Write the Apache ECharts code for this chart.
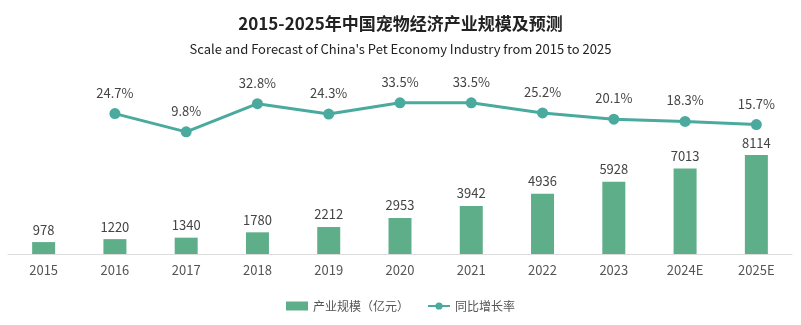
<!DOCTYPE html>
<html><head><meta charset="utf-8">
<script src="https://cdn.jsdelivr.net/npm/echarts@6/dist/echarts.min.js"></script>
<style>html,body{margin:0;padding:0;background:#fff}#c{width:801px;height:325px}</style>
</head><body><div id="c"></div>
<script>
const categories = ['2015','2016','2017','2018','2019','2020','2021','2022','2023','2024E','2025E'];
const industryScale = [978,1220,1340,1780,2212,2953,3942,4936,5928,7013,8114];
const growthRate = [null,24.7,9.8,32.8,24.3,33.5,33.5,25.2,20.1,18.3,15.7];
const chart = echarts.init(document.getElementById('c'));
const font = '"Noto Sans CJK SC","Noto Sans",sans-serif';
chart.setOption({
  animation:false,
  textStyle:{fontFamily:font},
  title:[
    {text:'2015-2025年中国宠物经济产业规模及预测',left:'center',top:10,textStyle:{fontSize:17,fontWeight:'bold',color:'#222',fontFamily:font}},
    {text:"Scale and Forecast of China's Pet Economy Industry from 2015 to 2025",left:'center',top:38,textStyle:{fontSize:13,fontWeight:'normal',color:'#222',fontFamily:font}}
  ],
  legend:{bottom:8,left:'center',itemGap:18,itemWidth:22,itemHeight:9,textStyle:{fontSize:12,color:'#555',fontFamily:font},
    data:[{name:'产业规模（亿元）',icon:'rect'},{name:'同比增长率'}]},
  grid:{left:8,right:9,top:59,bottom:71},
  xAxis:{type:'category',data:categories,axisTick:{show:false},
    axisLine:{lineStyle:{color:'#dcdcdc'}},
    axisLabel:{color:'#555',fontSize:13,margin:10,fontFamily:font}},
  yAxis:[
    {type:'value',min:0,max:16000,show:false,splitLine:{show:false}},
    {type:'value',min:-90,max:69.3,show:false,splitLine:{show:false}}
  ],
  series:[
    {name:'产业规模（亿元）',type:'bar',data:industryScale,barWidth:23,yAxisIndex:0,
      itemStyle:{color:'#5fae8a'},
      label:{show:true,position:'top',distance:6,color:'#444',fontSize:13,fontFamily:font}},
    {name:'同比增长率',type:'line',data:growthRate,yAxisIndex:1,symbol:'circle',symbolSize:11,
      lineStyle:{color:'#4aaa9d',width:3},itemStyle:{color:'#4aaa9d'},
      label:{show:true,position:'top',distance:9,color:'#444',fontSize:13,fontFamily:font,formatter:p=>p.value+'%'}}
  ]
});
</script></body></html>
